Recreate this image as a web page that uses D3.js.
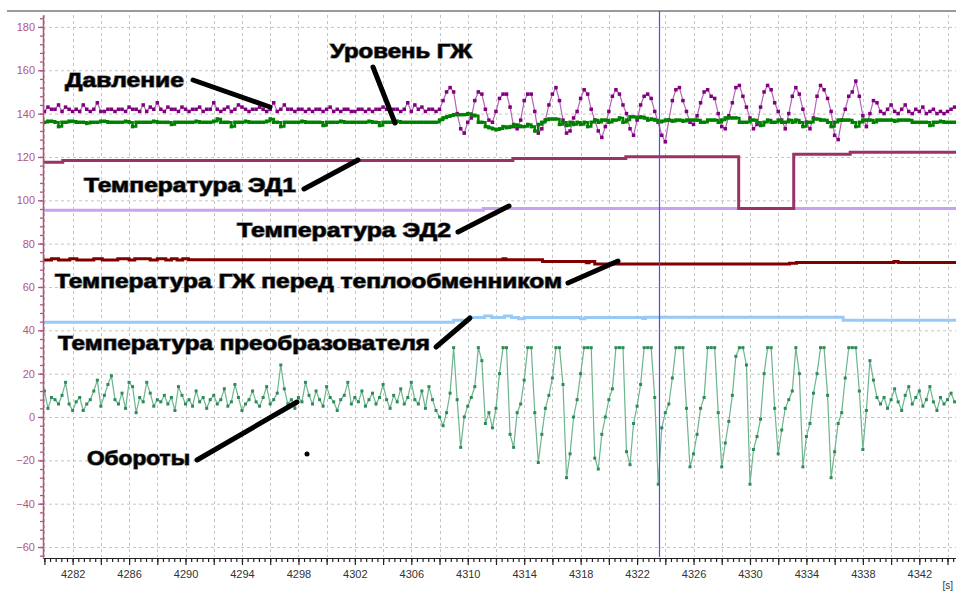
<!DOCTYPE html>
<html lang="ru">
<head>
<meta charset="UTF-8">
<title>Тренды</title>
<script src="https://cdn.jsdelivr.net/npm/d3@7"></script>
<style>
  body { margin: 0; background: #fff; }
  svg { display: block; }
</style>
</head>
<body>
<script>
// шаг выборки зашумлённых рядов (секунды)
var t0 = 4280, dt = 0.25;

// Давление
var davlenie = [
  141,143,142,142,144,141,143,142,141,142,
  141,144,142,141,142,145,141,141,142,142,
  141,142,142,141,143,142,142,141,144,141,
  143,142,145,142,141,143,142,142,141,143,
  142,141,142,142,143,141,142,142,145,142,
  141,142,143,141,142,144,143,142,141,142,
  142,143,142,141,142,145,141,142,144,142,
  142,141,142,142,141,142,141,142,142,141,
  142,143,141,142,141,142,142,141,141,142,
  142,141,142,141,142,142,143,142,141,142,
  142,141,142,145,141,144,142,143,141,142,142,
  141,142,146,150,152,150,140,133,131,136,
  138,146,150,149,142,137,136,141,147,149,
  149,143,134,133,137,146,149,149,141,131,
  133,137,144,149,152,146,137,131,132,138,
  141,147,151,149,142,137,132,129,134,141,
  148,151,149,144,140,133,130,137,144,148,
  149,147,141,136,130,127,137,146,151,152,
  146,141,136,135,139,145,150,151,148,147,
  140,134,133,139,145,152,153,148,143,138,
  133,135,143,150,153,151,145,141,137,133,
  140,148,152,149,142,136,133,138,148,153,
  151,147,141,130,128,137,142,148,150,155,
  148,139,134,140,146,145,141,140,142,144,
  141,140,142,144,141,140,142,141,143,140,
  141,142,140,141,140,141,142,143
];

// Уровень ГЖ
var uroven = [
  136,136.5,136.5,136,134,136,136,136.5,136.5,136,
  136,136,135.5,136,136,136,136.5,136.5,136,136,
  136,136,136,136.5,136,134,136,136,136,136,
  136,136.5,136,136,136,136,135,136,136,136,
  136,136,136,136.5,136,136,136,136,136.5,137.5,
  136,136,136,134,136,136,136,136.5,136,136,
  136,136,136,136.5,137.5,136,136,134,136,136,
  136,136,136,136.5,136,136,136,136,136,134.5,
  136,136,136,136,136.5,136,136,136,136,136,
  136,136,136.5,136,136,134.5,136,136,136,136,
  136.5,136,136,136,136,136,136,136,136,136,136,
  136,137,138,138.5,139,139.5,139.5,139.5,139.5,140,
  139.5,139,136,136,134,133.5,133,132.5,133,134,
  133.5,134,135,134.5,134,134,135,134,132,135,
  136,137,137.5,137.5,137.5,135,136,134.5,136,135,
  136,135,136,134,136,137,136,137,137,136,
  137,137,138,136,137,138.5,138.5,138,138.5,138,
  137,137.5,137,136,136.5,137,137,136.5,137,137,
  136.5,137,137,137,137,136,136,137,137,137,
  136,137,138,138,138,138,136,136,136,137,
  137,136,134.5,136,137,136,136,137,136,136,
  137,136,137,136,134,136,136,137.5,137.5,137,
  137,136,134,136,137,137,137,137,136,134,
  136,137,137,137,136,137,137,137,137,137,
  136.5,137,137,137,137,136,136,136,136,136,
  134.5,136,136,136.5,136,136,136,136
];

// Обороты
var oboroty = [
  12,4,9,8,6,10,16,6,3,7,
  9,3,6,8,12,17,5,10,15,19,
  8,6,11,4,16,14,2,9,7,16,
  11,5,8,7,10,6,9,3,14,10,
  6,8,5,12,7,9,4,8,10,6,
  8,13,5,7,15,9,3,6,8,12,
  7,5,9,14,6,8,11,24,13,6,
  8,4,9,7,16,10,6,12,8,5,
  14,9,7,3,8,10,16,6,9,7,
  12,5,8,11,6,9,15,8,4,10,
  7,13,6,9,16,8,
  6,12,4,14,8,3,0,-4,2,11,
  32,8,-14,0,5,9,14,32,26,-3,
  2,-5,4,20,32,32,-8,-14,2,6,
  17,32,32,2,-21,-8,4,10,18,32,
  32,15,-28,-17,0,8,20,32,32,32,
  -19,-24,-8,0,8,13,32,32,32,-16,
  -22,-3,5,15,32,32,32,9,-31,-5,
  2,6,18,32,32,32,4,-23,-17,-8,
  4,9,32,32,32,2,-23,-12,-2,10,
  28,32,32,24,-31,-15,-9,-1,20,32,
  32,4,-17,-6,4,8,12,32,20,-23,
  -9,-3,11,20,32,32,10,-28,-16,-3,
  2,18,32,32,32,12,-15,3,26,17,
  9,6,9,4,8,13,7,3,10,14,
  6,9,12,5,8,14,7,3,9,6,
  8,11,7
];

// ступенчатые ряды: моменты смены значения и значения
var ed1Time = [4279.9, 4281.3, 4313.2, 4321.2, 4329.2, 4333.1, 4337.1, 4344.6];
var ed1Val  = [117.6, 118.4, 119.3, 120.1, 96.2, 121.2, 122.2, 122.2];

var ed2Time = [4279.9, 4311.1, 4344.6];
var ed2Val  = [95.4, 96.2, 96.2];

var gzhTime = [4279.9, 4280.5, 4281.0, 4281.8, 4282.3, 4283.5, 4284.1, 4285.2, 4286.0, 4286.4,
               4287.5, 4288.0, 4288.6, 4289.0, 4289.4, 4289.8, 4290.2, 4312.5, 4312.7, 4315.3,
               4318.4, 4318.6, 4319.0, 4332.8, 4333.3, 4340.2, 4340.5, 4344.6];
var gzhVal  = [72.5, 73, 72.5, 73, 72.5, 73, 72.5, 73, 72.5, 73,
               72.5, 73, 72.5, 73, 72.5, 73, 72.6, 73, 72.6, 71.7,
               71.2, 71.7, 70.6, 70.9, 71.3, 71.8, 71.3, 71.3];

var preobTime = [4279.9, 4309.0, 4310.1, 4311.2, 4311.7, 4312.6, 4313.1, 4313.6, 4314.0, 4318.0,
                 4318.3, 4322.4, 4322.6, 4336.6, 4344.6];
var preobVal  = [43.7, 44.6, 45.9, 46.6, 45.9, 46.6, 45.9, 45.3, 45.9, 45.3,
                 45.9, 45.4, 46.0, 44.7, 44.7];

var cursorTime = 4323.55;

var yTicks = [-60, -40, -20, 0, 20, 40, 60, 80, 100, 120, 140, 160, 180];

var labels = ["Давление", "Уровень ГЖ", "Температура ЭД1", "Температура ЭД2",
              "Температура ГЖ перед теплообменником", "Температура преобразователя", "Обороты"];

// ---- разметка ----
var W = 956, H = 591;
var svg = d3.select("body").append("svg").attr("width", W).attr("height", H);

var x = d3.scaleLinear().domain([4279.9, 4344.6]).range([43, 956]);
var y = d3.scaleLinear().domain([-64.6, 185.5]).range([557, 15]);

// рамка сверху
svg.append("line").attr("x1", 7).attr("x2", W).attr("y1", 11).attr("y2", 11)
   .attr("stroke", "#9a9a9a").attr("stroke-width", 2);

// сетка
var grid = svg.append("g").attr("stroke", "#c4c4c4").attr("stroke-dasharray", "3,3");
grid.selectAll(".h").data(yTicks).enter().append("line")
    .attr("x1", 43).attr("x2", W).attr("y1", function(d){ return y(d) + 0.5; }).attr("y2", function(d){ return y(d) + 0.5; });
grid.selectAll(".v").data(d3.range(4280, 4345, 2)).enter().append("line")
    .attr("y1", 15).attr("y2", 557).attr("x1", function(d){ return Math.round(x(d)) + 0.5; }).attr("x2", function(d){ return Math.round(x(d)) + 0.5; });

// область данных
svg.append("clipPath").attr("id", "clip").append("rect")
   .attr("x", 43).attr("y", 13).attr("width", W - 43).attr("height", 545);
var plot = svg.append("g").attr("clip-path", "url(#clip)");

function sampled(vals) { return vals.map(function(v, i){ return [t0 + i * dt, v]; }); }
function stepped(ts, vs) { return ts.map(function(t, i){ return [t, vs[i]]; }); }

var lineLin = d3.line().x(function(d){ return x(d[0]); }).y(function(d){ return y(d[1]); });
var lineStep = d3.line().x(function(d){ return x(d[0]); }).y(function(d){ return y(d[1]); }).curve(d3.curveStepAfter);

function drawPath(data, gen, color, width) {
  plot.append("path").datum(data).attr("d", gen).attr("fill", "none")
      .attr("stroke", color).attr("stroke-width", width);
}
function drawMarks(data, color, s) {
  plot.append("g").selectAll("rect").data(data).enter().append("rect")
      .attr("x", function(d){ return x(d[0]) - s / 2; })
      .attr("y", function(d){ return y(d[1]) - s / 2; })
      .attr("width", s).attr("height", s).attr("fill", color);
}

// ступенчатые температуры
drawPath(stepped(preobTime, preobVal), lineStep, "#99c9f5", 3);
drawPath(stepped(gzhTime, gzhVal), lineStep, "#800000", 3);
drawPath(stepped(ed2Time, ed2Val), lineStep, "#c9a2f3", 3);
drawPath(stepped(ed1Time, ed1Val), lineStep, "#993366", 3);

// Обороты
var ob = sampled(oboroty);
drawPath(ob, lineLin, "#6cb58d", 1.2);
drawMarks(ob, "#2e8b57", 3);

// Давление
var dv = sampled(davlenie);
drawPath(dv, lineLin, "#b463b4", 1.2);
drawMarks(dv, "#800080", 3.5);

// Уровень ГЖ
var ur = sampled(uroven);
drawPath(ur, lineStep, "#008000", 2.5);
drawMarks(ur, "#008000", 3.5);

// курсор
svg.append("line").attr("x1", Math.round(x(cursorTime)) + 0.5).attr("x2", Math.round(x(cursorTime)) + 0.5)
   .attr("y1", 11).attr("y2", 557).attr("stroke", "#4a4aff").attr("stroke-width", 1.2);

// ось Y
var yCol = "#b4557f";
var gyMinor = svg.append("g").attr("transform", "translate(43,0)")
   .call(d3.axisLeft(y).tickValues(d3.range(-64, 185, 4)).tickSize(3).tickFormat("").tickSizeOuter(0));
var gy = svg.append("g").attr("transform", "translate(43,0)")
   .call(d3.axisLeft(y).tickValues(yTicks).tickSize(5).tickPadding(3).tickSizeOuter(0));
[gyMinor, gy].forEach(function(g){
  g.selectAll("path, line").attr("stroke", yCol).attr("stroke-width", 1.3);
});
gy.selectAll("text").attr("fill", yCol).attr("font-family", "Tahoma, 'Liberation Sans', Arial, sans-serif").attr("font-size", 11);

// ось X
var gxMinor = svg.append("g").attr("transform", "translate(0,558)")
   .call(d3.axisBottom(x).tickValues(d3.range(4280, 4344.7, 0.4)).tickSize(4).tickFormat("").tickSizeOuter(0));
var gx = svg.append("g").attr("transform", "translate(0,558)")
   .call(d3.axisBottom(x).tickValues(d3.range(4280, 4345, 2)).tickSize(7).tickPadding(5).tickSizeOuter(0)
         .tickFormat(function(d){ return (d - 4282) % 4 === 0 ? d : ""; }));
[gxMinor, gx].forEach(function(g){
  g.selectAll("path, line").attr("stroke", "#222").attr("stroke-width", 1.2);
});
gx.selectAll("text").attr("fill", "#333").attr("font-family", "Tahoma, 'Liberation Sans', Arial, sans-serif").attr("font-size", 11);

svg.append("text").attr("x", 953).attr("y", 589).attr("text-anchor", "end")
   .attr("font-family", "Liberation Sans, Arial, sans-serif")
   .attr("font-size", 10).attr("fill", "#333").text("[s]");

// подписи со стрелками
var labelPos = [
  { x: 65,  y: 87,  w: 119, l: [193, 80, 270, 107] },
  { x: 330, y: 58,  w: 142, l: [373, 67, 395, 123] },
  { x: 84,  y: 192, w: 212, l: [304, 189, 358, 160] },
  { x: 237, y: 237, w: 214, l: [458, 232, 509, 206] },
  { x: 55,  y: 288, w: 507, l: [568, 283, 618, 261] },
  { x: 58,  y: 350, w: 372, l: [436, 347, 470, 318] },
  { x: 87,  y: 465, w: 103, l: [197, 460, 297, 402] }
];

var ann = svg.append("g");
labels.forEach(function(txt, i){
  var p = labelPos[i];
  ann.append("line").attr("x1", p.l[0]).attr("y1", p.l[1]).attr("x2", p.l[2]).attr("y2", p.l[3])
     .attr("stroke", "#000").attr("stroke-width", 5).attr("stroke-linecap", "round");
  ann.append("text").attr("x", p.x).attr("y", p.y)
     .attr("textLength", p.w).attr("lengthAdjust", "spacingAndGlyphs")
     .attr("font-family", "'Liberation Sans', Arial, sans-serif").attr("font-weight", "bold")
     .attr("font-size", 20).attr("fill", "#000")
     .attr("stroke", "#666").attr("stroke-width", 1.2).attr("paint-order", "stroke")
     .text(txt);
});
ann.append("circle").attr("cx", 307).attr("cy", 454).attr("r", 2.5).attr("fill", "#000");
</script>
</body>
</html>
